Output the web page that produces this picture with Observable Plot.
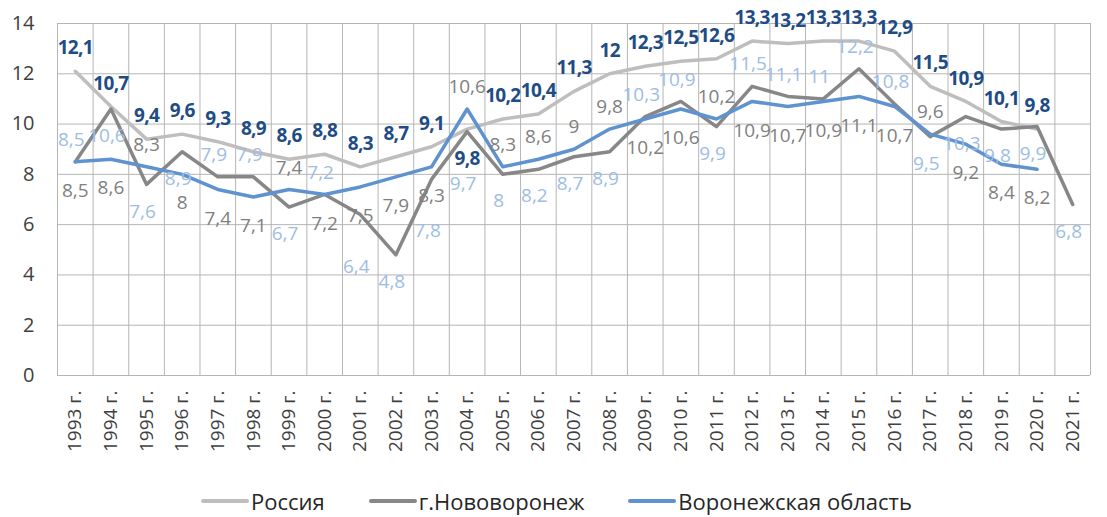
<!DOCTYPE html>
<html><head><meta charset="utf-8">
<script src="https://cdn.jsdelivr.net/npm/d3@7"></script>
<script src="https://cdn.jsdelivr.net/npm/@observablehq/plot@0.6"></script>
<style>
body{margin:0;background:#fff;font-family:"Open Sans",sans-serif;}
#legend{display:flex;justify-content:center;align-items:center;gap:44px;height:30px;padding-top:6px;font-size:22px;line-height:24px;color:#262626;margin-left:6px;}
.item{display:flex;align-items:center;}
.sw{display:inline-block;width:48px;height:4px;margin-right:2px;border-radius:2px;}
g[font-weight="bold"] text{letter-spacing:-0.7px;}
</style></head><body>
<div id="chart"></div>
<div id="legend"></div>
<script>
const years = [1993,1994,1995,1996,1997,1998,1999,2000,2001,2002,2003,2004,2005,2006,2007,2008,2009,2010,2011,2012,2013,2014,2015,2016,2017,2018,2019,2020,2021];
const russia = [12.1,10.7,9.4,9.6,9.3,8.9,8.6,8.8,8.3,8.7,9.1,9.8,10.2,10.4,11.3,12,12.3,12.5,12.6,13.3,13.2,13.3,13.3,12.9,11.5,10.9,10.1,9.8,null];
const novovoronezh = [8.5,10.6,7.6,8.9,7.9,7.9,6.7,7.2,6.4,4.8,7.8,9.7,8.0,8.2,8.7,8.9,10.3,10.9,9.9,11.5,11.1,11,12.2,10.8,9.5,10.3,9.8,9.9,6.8];
const voronezhObl = [8.5,8.6,8.3,8.0,7.4,7.1,7.4,7.2,7.5,7.9,8.3,10.6,8.3,8.6,9,9.8,10.2,10.6,10.2,10.9,10.7,10.9,11.1,10.7,9.6,9.2,8.4,8.2,null];
const yTicks = [0,2,4,6,8,10,12,14];
const seriesNames = ["Россия","г.Нововоронеж","Воронежская область"];
const lineColors = ["#c0bebc","#878787","#5f93d0"];
const labelColors = ["#1e4c85","#9ebde3","#7f7f7f"];

const fmt = v => String(v).replace(".", ",");
const rows = (arr) => years.map((y,i)=>({year:y, value:arr[i], i})).filter(d=>d.value!=null);
const R = rows(russia), N = rows(novovoronezh), V = rows(voronezhObl);
const bounds = [...years.map(y => y - 0.5), years[years.length-1] + 0.5];
const val = (arr, i, dflt) => arr[i] == null ? dflt : arr[i];

// label side rules (avoid collisions between neighbouring series)
const rAbove = d => !(val(voronezhObl, d.i, -Infinity) > d.value);
const vAbove = d => d.value > novovoronezh[d.i] &&
  (val(russia, d.i, -Infinity) - d.value >= 1.0 || d.value > val(russia, d.i, Infinity));
const nAbove = d => d.value >= val(voronezhObl, d.i, -Infinity) && val(russia, d.i, -Infinity) - d.value >= 1.0;
const nFar = d => {
  if (nAbove(d)) return false;
  const v = voronezhObl[d.i], r = russia[d.i];
  const byV = v != null && v > d.value && v - d.value < 1.5 && !vAbove({value: v, i: d.i});
  const byR = r != null && !rAbove({value: r, i: d.i}) && r >= d.value && r - d.value < 1.5;
  return byV || byR;
};

const Rup = R.filter(rAbove), Rdown = R.filter(d => !rAbove(d));
const Nup = N.filter(nAbove);
const NdownFar = N.filter(nFar);
const Ndown = N.filter(d => !nAbove(d) && !nFar(d));
const Vup = V.filter(vAbove);
const Vdown = V.filter(d => !vAbove(d));
const txt = d => fmt(d.value);

const chart = Plot.plot({
  width: 1107, height: 480,
  marginTop: 23, marginBottom: 105, marginLeft: 57, marginRight: 17,
  style: {fontFamily: "Open Sans", background: "#fff", color: "#404040", overflow: "visible"},
  x: {domain: [1992.5, 2021.5]},
  y: {domain: [0, 14]},
  marks: [
    Plot.ruleY(yTicks, {stroke: "#b5b5b5", strokeWidth: 1}),
    Plot.ruleX(bounds, {y1: 0, y2: 14, stroke: "#b5b5b5", strokeWidth: 1}),
    Plot.axisY({ticks: yTicks, tickSize: 0, tickPadding: 23, fontSize: 20, label: null}),
    Plot.axisX({ticks: years, tickFormat: d => `${d} г.`, tickSize: 0, tickRotate: -90, tickPadding: 15, fontSize: 19, label: null}),
    Plot.line(R, {x: "year", y: "value", stroke: lineColors[0], strokeWidth: 3.5}),
    Plot.line(N, {x: "year", y: "value", stroke: lineColors[1], strokeWidth: 3.5}),
    Plot.line(V, {x: "year", y: "value", stroke: lineColors[2], strokeWidth: 3.5}),
    Plot.text(Rup, {x: "year", y: "value", text: txt, dy: -23, fill: labelColors[0], fontWeight: "bold", fontSize: 19}),
    Plot.text(Rdown, {x: "year", y: "value", text: txt, dy: 30, fill: labelColors[0], fontWeight: "bold", fontSize: 19}),
    Plot.text(Nup, {x: "year", y: "value", text: txt, dy: -22, dx: -4, fill: labelColors[1], fontSize: 19}),
    Plot.text(Ndown, {x: "year", y: "value", text: txt, dy: 27, dx: -4, fill: labelColors[1], fontSize: 19}),
    Plot.text(NdownFar, {x: "year", y: "value", text: txt, dy: 52, dx: -4, fill: labelColors[1], fontSize: 19}),
    Plot.text(Vup, {x: "year", y: "value", text: txt, dy: -22, fill: labelColors[2], fontSize: 19}),
    Plot.text(Vdown, {x: "year", y: "value", text: txt, dy: 29, fill: labelColors[2], fontSize: 19})
  ]
});
document.getElementById("chart").appendChild(chart);

const leg = document.getElementById("legend");
seriesNames.forEach((n, k) => {
  const it = document.createElement("div"); it.className = "item";
  const sw = document.createElement("span"); sw.className = "sw"; sw.style.background = lineColors[k];
  const t = document.createElement("span"); t.textContent = n;
  it.appendChild(sw); it.appendChild(t); leg.appendChild(it);
});
</script>
</body></html>
